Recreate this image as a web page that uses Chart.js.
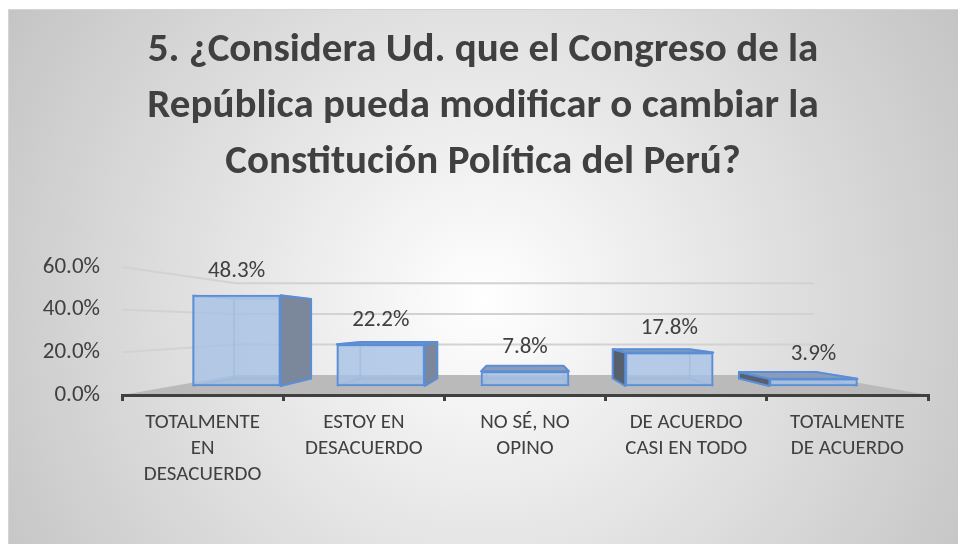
<!DOCTYPE html>
<html>
<head>
<meta charset="utf-8">
<script src="https://cdn.jsdelivr.net/npm/chart.js@4.4.1/dist/chart.umd.min.js"></script>
<style>
  html, body { margin: 0; padding: 0; background: #ffffff; }
  canvas { display: block; }
</style>
</head>
<body>
<canvas id="c" width="958" height="544"></canvas>
<script>
// ---------- data ----------
const titleLines = [
  "5. ¿Considera Ud. que el Congreso de la",
  "República pueda modificar o cambiar la",
  "Constitución Política del Perú?"
];
const categories = [
  ["TOTALMENTE", "EN", "DESACUERDO"],
  ["ESTOY EN", "DESACUERDO"],
  ["NO SÉ, NO", "OPINO"],
  ["DE ACUERDO", "CASI EN TODO"],
  ["TOTALMENTE", "DE ACUERDO"]
];
const percentages = [48.3, 22.2, 7.8, 17.8, 3.9];
const yTickValues = [0, 20, 40, 60];

// ---------- style ----------
const FONT = "Carlito, Lato, 'Open Sans', sans-serif";
const TEXT = '#404040';
const WALL_DEPTH = 0.717;   // perspective shrink front->back wall
const WALL_EYE = 33;       // eye level (in % of the front y scale)
const BAR_DEPTH = 0.875;   // perspective shrink bar front->bar back
const BAR_EYE = 32;        // eye level (in % of bar scale)

const bgPlugin = {
  id: 'bg3d',
  beforeDraw(chart) {
    const ctx = chart.ctx, W = chart.width, H = chart.height;
    ctx.save();
    ctx.fillStyle = '#ffffff';
    ctx.fillRect(0, 0, W, H);
    const g = ctx.createRadialGradient(483, 300, 0, 483, 300, 560);
    g.addColorStop(0, '#ffffff');
    g.addColorStop(1, '#c4c4c4');
    ctx.fillStyle = g;
    ctx.fillRect(8, 9, W - 8, H - 9);
    ctx.strokeStyle = '#d4d4d4';
    ctx.lineWidth = 1;
    ctx.strokeRect(8.5, 9.5, W, H);

    // walls & floor
    const xs = chart.scales.x, ys = chart.scales.y;
    const vx = (xs.left + xs.right) / 2;
    const vy = ys.getPixelForValue(WALL_EYE);
    const P = (x, y) => [vx + (x - vx) * WALL_DEPTH, vy + (y - vy) * WALL_DEPTH];
    const L = xs.left, R = xs.right;
    // floor
    const y0 = ys.getPixelForValue(0);
    const fl = P(L, y0), fr = P(R, y0);
    ctx.beginPath();
    ctx.moveTo(L, y0); ctx.lineTo(R, y0); ctx.lineTo(fr[0], fr[1]); ctx.lineTo(fl[0], fl[1]);
    ctx.closePath();
    ctx.fillStyle = '#bababa';
    ctx.fill();
    // grid lines on left wall and back wall
    ctx.strokeStyle = '#d2d2d2';
    ctx.lineWidth = 2;
    yTickValues.forEach(v => {
      if (v === 0) return;
      const yf = ys.getPixelForValue(v);
      const bl = P(L, yf), br = P(R, yf);
      ctx.beginPath();
      ctx.moveTo(L, yf); ctx.lineTo(bl[0], bl[1]); ctx.lineTo(br[0], br[1]);
      ctx.stroke();
    });
    ctx.restore();
  }
};

const facesPlugin = {
  id: 'faces3d',
  beforeDatasetsDraw(chart) {
    const ctx = chart.ctx;
    const meta = chart.getDatasetMeta(0);
    const yb = chart.scales.yBar;
    const vx = (chart.chartArea.left + chart.chartArea.right) / 2;
    const vy = yb.getPixelForValue(BAR_EYE);
    const P = (x, y) => [vx + (x - vx) * BAR_DEPTH, vy + (y - vy) * BAR_DEPTH];
    ctx.save();
    meta.data.forEach(bar => {
      const p = bar.getProps(['x', 'y', 'base', 'width'], true);
      const l = p.x - p.width / 2, r = p.x + p.width / 2, t = p.y, b = p.base;
      const tl = P(l, t), tr = P(r, t), bl = P(l, b), br = P(r, b);
      // hidden back edges (seen through translucent front)
      ctx.strokeStyle = 'rgba(91,142,214,0.55)';
      ctx.lineWidth = 1.5;
      ctx.beginPath();
      ctx.moveTo(tl[0], tl[1]); ctx.lineTo(tr[0], tr[1]); ctx.lineTo(br[0], br[1]); ctx.lineTo(bl[0], bl[1]); ctx.closePath();
      ctx.moveTo(l, t); ctx.lineTo(tl[0], tl[1]);
      ctx.moveTo(l, b); ctx.lineTo(bl[0], bl[1]);
      ctx.moveTo(r, t); ctx.lineTo(tr[0], tr[1]);
      ctx.moveTo(r, b); ctx.lineTo(br[0], br[1]);
      ctx.stroke();
      ctx.strokeStyle = '#5b8ed6';
      ctx.lineWidth = 2;
      ctx.lineJoin = 'round';
      // side faces
      if (r < vx - 1) {
        ctx.beginPath();
        ctx.moveTo(r, t); ctx.lineTo(tr[0], tr[1]); ctx.lineTo(br[0], br[1]); ctx.lineTo(r, b); ctx.closePath();
        ctx.fillStyle = '#7b879a';
        ctx.fill(); ctx.stroke();
      } else if (l > vx + 1) {
        ctx.beginPath();
        ctx.moveTo(l, t); ctx.lineTo(tl[0], tl[1]); ctx.lineTo(bl[0], bl[1]); ctx.lineTo(l, b); ctx.closePath();
        ctx.fillStyle = '#56606e';
        ctx.fill(); ctx.stroke();
      }
      // top face when below eye level
      if (t > vy) {
        ctx.beginPath();
        ctx.moveTo(l, t); ctx.lineTo(r, t); ctx.lineTo(tr[0], tr[1]); ctx.lineTo(tl[0], tl[1]); ctx.closePath();
        ctx.fillStyle = '#8a9cb8';
        ctx.fill(); ctx.stroke();
      }
    });
    ctx.restore();
  },
  afterDatasetsDraw(chart) {
    const ctx = chart.ctx;
    const meta = chart.getDatasetMeta(0);
    ctx.save();
    ctx.font = '23px ' + FONT;
    ctx.fillStyle = TEXT;
    ctx.textAlign = 'center';
    ctx.textBaseline = 'middle';
    meta.data.forEach((bar, i) => {
      ctx.fillText(percentages[i].toFixed(1) + '%', bar.x, bar.y - 24);
    });
    ctx.restore();
  }
};

new Chart(document.getElementById('c'), {
  type: 'bar',
  data: {
    labels: categories,
    datasets: [{
      data: percentages.map((v, i) => ({ x: i, y: v })),
      xAxisID: 'xBar',
      yAxisID: 'yBar',
      backgroundColor: 'rgba(165,192,228,0.78)',
      borderColor: '#5b8ed6',
      borderWidth: 2,
      borderSkipped: false,
      barThickness: 88
    }]
  },
  options: {
    responsive: false,
    animation: false,
    devicePixelRatio: 1,
    layout: { padding: { left: 8, right: 0, top: 0, bottom: 0 } },
    plugins: {
      legend: { display: false },
      tooltip: { enabled: false },
      title: {
        display: true,
        text: titleLines,
        color: TEXT,
        font: { family: FONT, size: 41, weight: 'bold', lineHeight: 56 / 41 },
        padding: { top: 23, bottom: 76 }
      }
    },
    scales: {
      x: {
        type: 'category',
        offset: true,
        grid: { offset: true, drawOnChartArea: false, drawTicks: true, tickLength: 6, color: '#404040', lineWidth: 3 },
        border: { display: true, color: '#404040', width: 3 },
        ticks: { color: TEXT, font: { family: FONT, size: 21, lineHeight: 26 / 21 }, padding: 9, maxRotation: 0, autoSkip: false },
        afterFit(s) { s.height = 149; }
      },
      y: {
        type: 'linear',
        min: 0, max: 60,
        grid: { display: false, drawTicks: false },
        border: { display: false },
        afterBuildTicks(s) { s.ticks = yTickValues.map(v => ({ value: v })); },
        ticks: { color: TEXT, font: { family: FONT, size: 23 }, padding: 22, callback: v => v.toFixed(1) + '%' },
        afterFit(s) { s.width = 114; }
      },
      yR: {
        type: 'linear',
        position: 'right',
        display: true,
        grid: { display: false, drawTicks: false },
        border: { display: false },
        ticks: { display: false },
        afterFit(s) { s.width = 30; }
      },
      xBar: { type: 'linear', display: false, min: -0.794, max: 4.794, offset: false },
      yBar: { type: 'linear', display: false, min: -4.79, max: 63.3 }
    }
  },
  plugins: [bgPlugin, facesPlugin]
});
</script>
</body>
</html>
